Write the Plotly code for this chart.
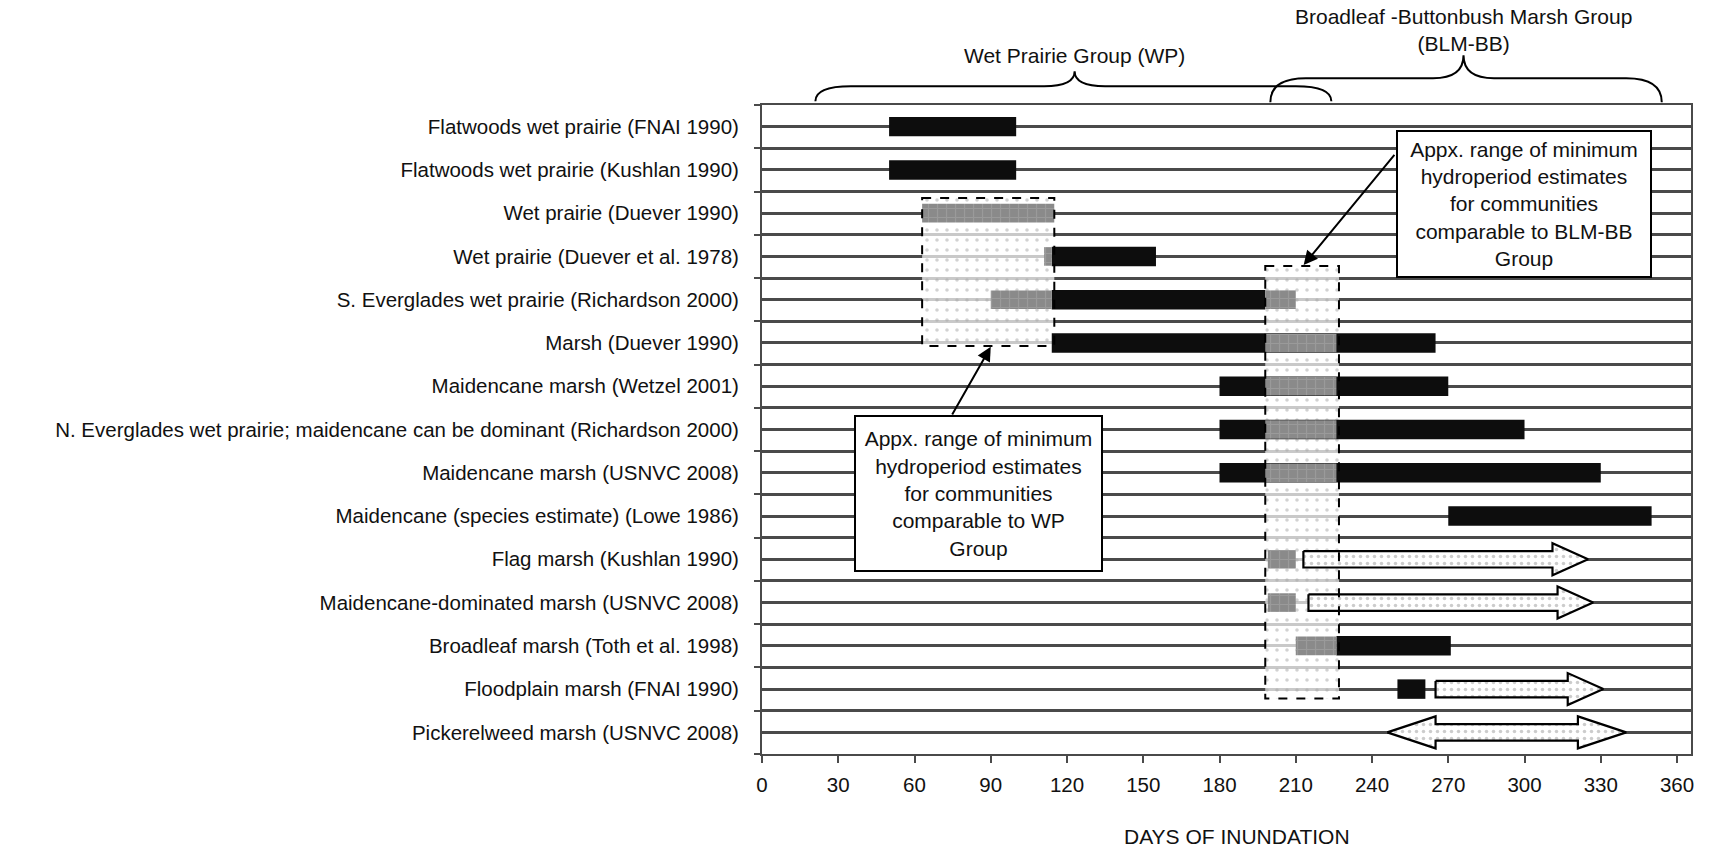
import plotly.graph_objects as go

# ---------------- data ----------------
categories = [
    "Flatwoods wet prairie (FNAI 1990)",
    "Flatwoods wet prairie (Kushlan 1990)",
    "Wet prairie (Duever 1990)",
    "Wet prairie (Duever et al. 1978)",
    "S. Everglades wet prairie (Richardson 2000)",
    "Marsh (Duever 1990)",
    "Maidencane marsh (Wetzel 2001)",
    "N. Everglades wet prairie; maidencane can be dominant (Richardson 2000)",
    "Maidencane marsh (USNVC 2008)",
    "Maidencane (species estimate) (Lowe 1986)",
    "Flag marsh (Kushlan 1990)",
    "Maidencane-dominated marsh (USNVC 2008)",
    "Broadleaf marsh (Toth et al. 1998)",
    "Floodplain marsh (FNAI 1990)",
    "Pickerelweed marsh (USNVC 2008)",
]

# black bars: reported inundation ranges (days)
black_row = [0, 1, 3, 4, 5, 6, 7, 8, 9, 12, 13]
black_start = [50, 50, 114, 114, 114, 180, 180, 180, 270, 226, 250]
black_end = [100, 100, 155, 198, 265, 270, 300, 330, 350, 271, 261]

# grey bars: minimum hydroperiod estimates (days)
gray_row = [2, 3, 4, 4, 5, 6, 7, 8, 10, 11, 12]
gray_start = [63, 111, 90, 198, 198, 198, 198, 198, 199, 199, 210]
gray_end = [115, 114, 114, 210, 226, 226, 226, 226, 210, 210, 226]

# open-ended ranges (arrows)
arrow_row = [10, 11, 13, 14]
arrow_start = [213, 215, 265, 246]
arrow_end = [325, 327, 331, 340]
arrow_both = [False, False, False, True]

# approximate ranges of minimum hydroperiod estimates (dashed boxes)
range_days = [[63, 115], [198, 227]]
range_rows = [[1.65, 5.07], [3.22, 13.22]]

x_ticks = list(range(0, 361, 30))

FONT = "Liberation Sans, Arial, Helvetica, sans-serif"
LINE = "#4a4a4a"

fig = go.Figure()

# dotted fill of the two estimate boxes
for (d0, d1), (r0, r1) in zip(range_days, range_rows):
    fig.add_trace(go.Bar(
        orientation="h", y=[(r0 + r1) / 2], base=[d0], x=[d1 - d0], width=[r1 - r0],
        marker=dict(color="rgba(255,255,255,0.7)", line=dict(width=0),
                    pattern=dict(shape=".", fgcolor="#a5a5a5", size=10, solidity=0.1)),
        hoverinfo="skip", showlegend=False))

# black bars
fig.add_trace(go.Bar(
    orientation="h", y=black_row, base=black_start,
    x=[e - s for s, e in zip(black_start, black_end)], width=0.45,
    marker=dict(color="#0d0d0d", line=dict(width=0)), showlegend=False))

# grey bars
fig.add_trace(go.Bar(
    orientation="h", y=gray_row, base=gray_start,
    x=[e - s for s, e in zip(gray_start, gray_end)], width=0.43,
    marker=dict(color="#8a8a8a", line=dict(width=0),
                pattern=dict(shape="+", fgcolor="#a9a9a9", size=9, solidity=0.25)),
    showlegend=False))

# arrows
SHAFT, HEAD = 0.19, 0.37
for r, s, e, both in zip(arrow_row, arrow_start, arrow_end, arrow_both):
    hl = 19 if both else 14
    if both:
        xs = [s, s + hl, s + hl, e - hl, e - hl, e, e - hl, e - hl, s + hl, s + hl, s]
        ys = [r, r - HEAD, r - SHAFT, r - SHAFT, r - HEAD, r, r + HEAD, r + SHAFT, r + SHAFT, r + HEAD, r]
    else:
        xs = [s, e - hl, e - hl, e, e - hl, e - hl, s, s]
        ys = [r - SHAFT, r - SHAFT, r - HEAD, r, r + HEAD, r + SHAFT, r + SHAFT, r - SHAFT]
    fig.add_trace(go.Scatter(
        x=xs, y=ys, mode="lines", fill="toself", fillcolor="white",
        fillpattern=dict(shape=".", fgcolor="#9a9a9a", bgcolor="white", size=7, solidity=0.2),
        line=dict(color="black", width=2.2), hoverinfo="skip", showlegend=False))

# dashed outlines of estimate boxes
for (d0, d1), (r0, r1) in zip(range_days, range_rows):
    fig.add_shape(type="rect", xref="x", yref="y", x0=d0, x1=d1, y0=r0, y1=r1,
                  line=dict(color="black", width=2, dash="dash"), layer="above")

# ------------- group braces -------------
H_PLOT_TOP, H_PLOT = 104.7, 649.6


def py(p):
    return (H_PLOT_TOP + H_PLOT - p) / H_PLOT


def brace(x0, xm, x1, ye, yf, yt, c=14, t=12):
    ye, yf, yt = py(ye), py(yf), py(yt)
    return (f"M {x0},{ye} Q {x0},{yf} {x0 + c},{yf} L {xm - t},{yf} "
            f"Q {xm},{yf} {xm},{yt} Q {xm},{yf} {xm + t},{yf} "
            f"L {x1 - c},{yf} Q {x1},{yf} {x1},{ye}")


group_names = ["Wet Prairie Group (WP)", "Broadleaf -Buttonbush Marsh Group<br>(BLM-BB)"]
group_start = [21, 200]
group_end = [224, 354]
group_mid = [123, 276]
brace_px = [(101, 86, 71), (102, 78, 55)]
label_px = [55, 30]

for name, s, m, e, (ye, yf, yt), lp in zip(group_names, group_start, group_mid, group_end,
                                           brace_px, label_px):
    fig.add_shape(type="path", xref="x", yref="paper", path=brace(s, m, e, ye, yf, yt),
                  line=dict(color="black", width=2))
    fig.add_annotation(x=m, xref="x", y=py(lp), yref="paper", text=name, showarrow=False,
                       font=dict(family=FONT, size=21, color="#111"), yanchor="middle")

# ------------- callout boxes -------------
box_text = "Appx. range of minimum<br>hydroperiod estimates<br>for communities<br>comparable to {}<br>Group"
fig.add_annotation(x=85.1, y=8.49, xref="x", yref="y", text=box_text.format("WP"),
                   showarrow=False, bgcolor="white", bordercolor="black", borderwidth=2,
                   borderpad=0, width=245, height=153,
                   font=dict(family=FONT, size=21, color="#111"))
fig.add_annotation(x=299.8, y=1.78, xref="x", yref="y", text=box_text.format("BLM-BB"),
                   showarrow=False, bgcolor="white", bordercolor="black", borderwidth=2,
                   borderpad=0, width=252, height=144,
                   font=dict(family=FONT, size=21, color="#111"))
# arrows from callouts
fig.add_annotation(x=90.0, y=5.09, ax=74.5, ay=6.69, xref="x", yref="y", axref="x", ayref="y",
                   text="", showarrow=True, arrowhead=2, arrowsize=1.4, arrowwidth=2,
                   arrowcolor="black", standoff=0)
fig.add_annotation(x=213.1, y=3.2, ax=249.3, ay=0.62, xref="x", yref="y", axref="x", ayref="y",
                   text="", showarrow=True, arrowhead=2, arrowsize=1.4, arrowwidth=2,
                   arrowcolor="black", standoff=0)

# x-axis title
fig.add_annotation(x=0.511, y=py(850), xref="paper", yref="paper", text="DAYS OF INUNDATION",
                   showarrow=False, font=dict(family=FONT, size=21, color="#111"))

fig.update_layout(
    width=1709, height=849,
    margin=dict(l=762, r=18, t=105, b=95),
    paper_bgcolor="white", plot_bgcolor="white",
    barmode="overlay", showlegend=False,
    font=dict(family=FONT, size=21, color="#111"),
)
fig.update_xaxes(
    range=[0, 365.5], tickvals=x_ticks, ticktext=[str(v) for v in x_ticks],
    ticks="outside", ticklen=7, tickwidth=2, tickcolor=LINE, ticklabelstandoff=4,
    showgrid=False, zeroline=False, showline=True, mirror=True, linecolor=LINE, linewidth=2,
    tickfont=dict(family=FONT, size=20.5, color="#111"),
)
fig.update_yaxes(
    range=[14.5, -0.5], tickvals=list(range(len(categories))), ticktext=categories,
    ticks="", showgrid=True, gridcolor=LINE, gridwidth=2.5, zeroline=False,
    showline=True, mirror=True, linecolor=LINE, linewidth=2, ticklabelstandoff=17,
    tickfont=dict(family=FONT, size=20.5, color="#111"),
    minor=dict(tickvals=[i - 0.5 for i in range(len(categories) + 1)], ticks="outside",
               ticklen=6, tickwidth=2, tickcolor=LINE, showgrid=True, gridcolor=LINE,
               gridwidth=2.5),
)

fig.write_html("out.html")
